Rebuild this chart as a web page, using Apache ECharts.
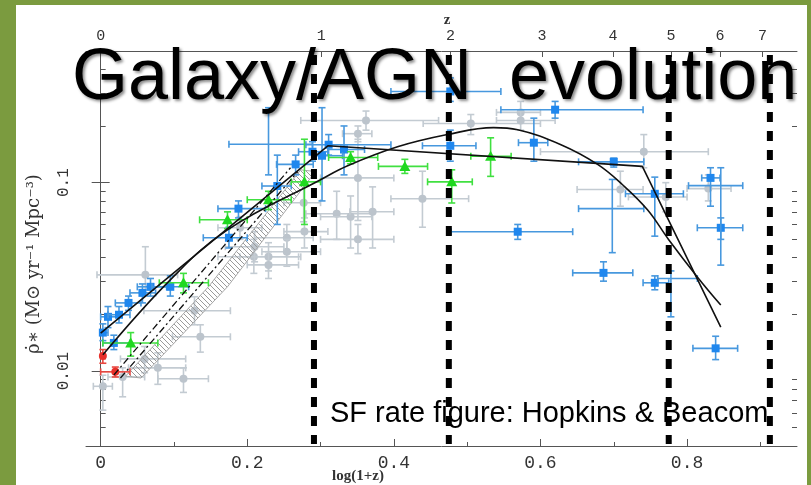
<!DOCTYPE html>
<html>
<head>
<meta charset="utf-8">
<script src="https://cdn.jsdelivr.net/npm/echarts@6/dist/echarts.min.js"></script>
<style>
  html, body { margin: 0; padding: 0; }
  #chart { width: 811px; height: 485px; }
</style>
</head>
<body>
<div id="chart"></div>
<script>
// x = log(1+z), y = star formation rate density
// point rows: [x, y, xLow, xHigh, yLow, yHigh]
const grayPoints = [
  [0.003, 0.0083, -0.01, 0.016, 0.0062, 0.0095],
  [0.03, 0.0093, 0.01, 0.06, 0.0073, 0.0104],
  [0.06, 0.0116, 0.027, 0.116, 0.0098, 0.0135],
  [0.078, 0.0104, 0.038, 0.116, 0.0085, 0.0125],
  [0.113, 0.0091, 0.078, 0.147, 0.0077, 0.0104],
  [0.128, 0.0209, 0.059, 0.177, 0.0176, 0.0248],
  [0.136, 0.0152, 0.098, 0.177, 0.0126, 0.0176],
  [0.061, 0.0324, -0.005, 0.105, 0.027, 0.0457],
  [0.209, 0.0404, 0.16, 0.273, 0.033, 0.05],
  [0.229, 0.0404, 0.19, 0.27, 0.034, 0.048],
  [0.229, 0.0366, 0.2, 0.27, 0.031, 0.043],
  [0.254, 0.051, 0.21, 0.29, 0.043, 0.06],
  [0.254, 0.043, 0.22, 0.3, 0.036, 0.05],
  [0.277, 0.0783, 0.25, 0.3, 0.062, 0.1],
  [0.21, 0.0457, 0.17, 0.25, 0.038, 0.055],
  [0.19, 0.0576, 0.16, 0.22, 0.05, 0.066],
  [0.362, 0.214, 0.273, 0.461, 0.19, 0.24],
  [0.351, 0.182, 0.33, 0.37, 0.165, 0.2],
  [0.351, 0.106, 0.3, 0.4, 0.063, 0.17],
  [0.439, 0.0822, 0.396, 0.502, 0.058, 0.115],
  [0.322, 0.0684, 0.28, 0.37, 0.05, 0.09],
  [0.341, 0.0659, 0.3, 0.37, 0.045, 0.085],
  [0.371, 0.0701, 0.34, 0.4, 0.045, 0.095],
  [0.351, 0.05, 0.3, 0.4, 0.042, 0.06],
  [0.278, 0.055, 0.25, 0.31, 0.045, 0.065],
  [0.505, 0.206, 0.44, 0.6, 0.18, 0.23],
  [0.573, 0.236, 0.54, 0.6, 0.21, 0.27],
  [0.573, 0.214, 0.54, 0.62, 0.19, 0.24],
  [0.741, 0.146, 0.6, 0.829, 0.12, 0.18],
  [0.709, 0.092, 0.65, 0.74, 0.075, 0.115],
  [0.771, 0.084, 0.72, 0.8, 0.07, 0.1],
  [0.829, 0.093, 0.8, 0.86, 0.08, 0.11]
];
const bluePoints = [
  [0.003, 0.016, 0.0, 0.01, 0.0145, 0.0178],
  [0.01, 0.0194, 0.0, 0.025, 0.017, 0.022],
  [0.018, 0.0141, 0.003, 0.04, 0.013, 0.0155],
  [0.025, 0.0199, 0.01, 0.04, 0.018, 0.022],
  [0.038, 0.023, 0.02, 0.055, 0.021, 0.025],
  [0.057, 0.026, 0.04, 0.075, 0.023, 0.029],
  [0.068, 0.028, 0.05, 0.09, 0.025, 0.031],
  [0.095, 0.028, 0.07, 0.12, 0.025, 0.032],
  [0.175, 0.051, 0.14, 0.2, 0.045, 0.058],
  [0.188, 0.0728, 0.16, 0.225, 0.065, 0.08],
  [0.241, 0.096, 0.22, 0.26, 0.06, 0.14],
  [0.266, 0.125, 0.24, 0.29, 0.11, 0.14],
  [0.289, 0.146, 0.27, 0.31, 0.13, 0.165],
  [0.311, 0.159, 0.28, 0.396, 0.14, 0.18],
  [0.332, 0.15, 0.31, 0.36, 0.11, 0.2],
  [0.302, 0.139, 0.29, 0.33, 0.08, 0.25],
  [0.477, 0.157, 0.439, 0.512, 0.13, 0.19],
  [0.477, 0.305, 0.396, 0.546, 0.27, 0.36],
  [0.591, 0.163, 0.57, 0.61, 0.13, 0.22],
  [0.569, 0.0549, 0.478, 0.644, 0.05, 0.06],
  [0.62, 0.244, 0.546, 0.74, 0.22, 0.27],
  [0.7, 0.129, 0.652, 0.741, 0.121, 0.135],
  [0.756, 0.0873, 0.716, 0.795, 0.052, 0.107],
  [0.832, 0.106, 0.82, 0.845, 0.075, 0.12],
  [0.846, 0.0576, 0.814, 0.876, 0.0365, 0.065],
  [0.686, 0.0332, 0.644, 0.726, 0.03, 0.038],
  [0.756, 0.0294, 0.74, 0.775, 0.027, 0.032],
  [0.839, 0.0132, 0.808, 0.869, 0.0115, 0.0153]
];
const blueCrosses = [
  [0.229, 0.16, 0.175, 0.289, 0.11, 0.25],
  [0.698, 0.0728, 0.652, 0.741, 0.0425, 0.104],
  [0.846, 0.0964, 0.802, 0.876, 0.05, 0.12],
  [0.778, 0.031, 0.76, 0.814, 0.0194, 0.034]
];
const greenPoints = [
  [0.041, 0.0141, 0.003, 0.078, 0.012, 0.016],
  [0.113, 0.0294, 0.08, 0.147, 0.026, 0.033],
  [0.173, 0.0635, 0.135, 0.2, 0.057, 0.07],
  [0.229, 0.0812, 0.2, 0.26, 0.072, 0.09],
  [0.278, 0.101, 0.26, 0.3, 0.06, 0.17],
  [0.341, 0.136, 0.311, 0.378, 0.126, 0.146],
  [0.415, 0.122, 0.379, 0.446, 0.112, 0.133],
  [0.479, 0.101, 0.446, 0.507, 0.078, 0.117],
  [0.532, 0.138, 0.505, 0.56, 0.108, 0.173]
];
const redPoints = [
  [0.003, 0.012, 0.0, 0.006, 0.011, 0.013],
  [0.02, 0.0099, 0.0, 0.04, 0.0093, 0.0105]
];

// fitted curves
const fitBroken = [[0, 0.0159], [0.31, 0.157], [0.739, 0.122], [0.846, 0.0171]];
const fitSmooth = [
  [0.003, 0.0122], [0.095, 0.0305], [0.173, 0.0562], [0.30, 0.1037], [0.337, 0.123],
  [0.405, 0.155], [0.473, 0.180], [0.536, 0.196], [0.569, 0.191], [0.628, 0.159],
  [0.678, 0.125], [0.712, 0.0975], [0.746, 0.0718], [0.775, 0.0498], [0.814, 0.0316],
  [0.846, 0.0224]
];
const dashFit1 = [[0.018, 0.00953], [0.259, 0.120]];
const dashFit2 = [[0.027, 0.00918], [0.269, 0.1145]];
const bandUpper = [[0.034, 0.0094], [0.147, 0.028], [0.273, 0.117]];
const bandLower = [[0.055, 0.00918], [0.173, 0.028], [0.293, 0.1145]];

// slide annotation: vertical dashed markers
const markerLines = [0.291, 0.475, 0.775, 0.913];

// tick values
const zTicks = [0, 1, 2, 3, 4, 5, 6, 7];
const xMajor = [0, 0.2, 0.4, 0.6, 0.8];
const xMinor = [0.1, 0.3, 0.5, 0.7, 0.9];
const yMajor = [0.01, 0.1];
const yMinor = [0.004, 0.005, 0.006, 0.007, 0.008, 0.009,
  0.02, 0.03, 0.04, 0.05, 0.06, 0.07, 0.08, 0.09, 0.2, 0.3, 0.4];

const X_MIN = -0.02, X_MAX = 0.95, Y_MIN = 0.004, Y_MAX = 0.5;

const chart = echarts.init(document.getElementById('chart'));

// hatch pattern for the shaded band
const hatch = document.createElement('canvas');
hatch.width = 5; hatch.height = 5;
const hctx = hatch.getContext('2d');
hctx.strokeStyle = '#9a9a9a';
hctx.lineWidth = 1;
hctx.beginPath();
hctx.moveTo(0, 0); hctx.lineTo(5, 5);
hctx.moveTo(-1, 4); hctx.lineTo(1, 6);
hctx.moveTo(4, -1); hctx.lineTo(6, 1);
hctx.stroke();

function errorSeries(data, barColor, markColor, marker, size, z) {
  return {
    type: 'custom',
    data: data,
    z: z,
    silent: true,
    renderItem: function (params, api) {
      const x = api.value(0), y = api.value(1);
      const c = api.coord([x, y]);
      const l = api.coord([api.value(2), y]);
      const r = api.coord([api.value(3), y]);
      const b = api.coord([x, api.value(4)]);
      const t = api.coord([x, api.value(5)]);
      const cap = 3.5;
      const ls = { stroke: barColor, lineWidth: 1.6 };
      const kids = [
        { type: 'line', shape: { x1: l[0], y1: c[1], x2: r[0], y2: c[1] }, style: ls },
        { type: 'line', shape: { x1: c[0], y1: b[1], x2: c[0], y2: t[1] }, style: ls },
        { type: 'line', shape: { x1: l[0], y1: c[1] - cap, x2: l[0], y2: c[1] + cap }, style: ls },
        { type: 'line', shape: { x1: r[0], y1: c[1] - cap, x2: r[0], y2: c[1] + cap }, style: ls },
        { type: 'line', shape: { x1: c[0] - cap, y1: b[1], x2: c[0] + cap, y2: b[1] }, style: ls },
        { type: 'line', shape: { x1: c[0] - cap, y1: t[1], x2: c[0] + cap, y2: t[1] }, style: ls }
      ];
      const h = size / 2;
      if (marker === 'circle') {
        kids.push({ type: 'circle', shape: { cx: c[0], cy: c[1], r: h }, style: { fill: markColor } });
      } else if (marker === 'square') {
        kids.push({ type: 'rect', shape: { x: c[0] - h, y: c[1] - h, width: size, height: size }, style: { fill: markColor } });
      } else if (marker === 'triangle') {
        kids.push({ type: 'polygon', shape: { points: [[c[0], c[1] - h - 1], [c[0] + h + 1, c[1] + h], [c[0] - h - 1, c[1] + h]] }, style: { fill: markColor } });
      }
      return { type: 'group', children: kids };
    }
  };
}

function lineSeries(data, dash, width, smooth) {
  return {
    type: 'line',
    data: data,
    showSymbol: false,
    smooth: smooth,
    silent: true,
    z: 4,
    lineStyle: { color: '#111', width: width, type: dash }
  };
}

const labelFont = { fontFamily: 'Liberation Mono', color: '#333' };
const titleStyle = {
  font: '72px "Liberation Sans"', fill: '#000', align: 'left', verticalAlign: 'middle',
  textShadowColor: 'rgba(0,0,0,0.45)', textShadowBlur: 3, textShadowOffsetX: 2, textShadowOffsetY: 2
};

const option = {
  animation: false,
  backgroundColor: '#7b9b3f',
  grid: { left: 86, right: 14, top: 51, bottom: 39 },
  xAxis: [
    {
      type: 'value', position: 'bottom', min: X_MIN, max: X_MAX,
      splitLine: { show: false },
      axisLine: { show: true, lineStyle: { color: '#555', width: 1 } },
      axisTick: { inside: true, length: 7, customValues: xMajor, lineStyle: { color: '#555' } },
      axisLabel: Object.assign({ customValues: xMajor, fontSize: 18, margin: 8,
        formatter: v => (Math.abs(v) < 1e-9 ? '0' : v.toFixed(1)) }, labelFont)
    },
    {
      type: 'value', position: 'bottom', min: X_MIN, max: X_MAX,
      splitLine: { show: false },
      axisLine: { show: false },
      axisTick: { inside: true, length: 4, customValues: xMinor, lineStyle: { color: '#555' } },
      axisLabel: { show: false }
    },
    {
      type: 'value', position: 'top', min: X_MIN, max: X_MAX,
      splitLine: { show: false },
      axisLine: { show: true, lineStyle: { color: '#555', width: 1 } },
      axisTick: { inside: true, length: 6, customValues: zTicks.map(z => Math.log10(1 + z)), lineStyle: { color: '#555' } },
      axisLabel: Object.assign({ customValues: zTicks.map(z => Math.log10(1 + z)), fontSize: 15, margin: 7,
        formatter: v => String(Math.round(Math.pow(10, v) - 1)) }, labelFont)
    }
  ],
  yAxis: [
    {
      type: 'log', position: 'left', min: Y_MIN, max: Y_MAX,
      splitLine: { show: false },
      axisLine: { show: true, lineStyle: { color: '#555', width: 1 } },
      axisTick: { inside: true, length: 9, customValues: yMajor, lineStyle: { color: '#555' } },
      axisLabel: Object.assign({ customValues: yMajor, fontSize: 16, rotate: 90, margin: 14,
        formatter: v => (v < 0.05 ? '0.01' : '0.1') }, labelFont)
    },
    {
      type: 'log', position: 'left', min: Y_MIN, max: Y_MAX,
      splitLine: { show: false },
      axisLine: { show: false },
      axisTick: { inside: true, length: 5, customValues: yMinor, lineStyle: { color: '#555' } },
      axisLabel: { show: false }
    },
    {
      type: 'log', position: 'right', min: Y_MIN, max: Y_MAX,
      splitLine: { show: false },
      axisLine: { show: true, lineStyle: { color: '#555', width: 1 } },
      axisTick: { inside: true, length: 9, customValues: yMajor, lineStyle: { color: '#555' } },
      axisLabel: { show: false }
    },
    {
      type: 'log', position: 'right', min: Y_MIN, max: Y_MAX,
      splitLine: { show: false },
      axisLine: { show: false },
      axisTick: { inside: true, length: 5, customValues: yMinor, lineStyle: { color: '#555' } },
      axisLabel: { show: false }
    }
  ],
  graphic: [
    { type: 'rect', z: -10, silent: true, shape: { x: 16, y: 5, width: 791, height: 480 }, style: { fill: '#ffffff' } },
    { type: 'text', z: 50, x: 447, y: 20, silent: true,
      style: { text: 'z', font: 'bold 15px "Liberation Serif"', fill: '#333', align: 'center', verticalAlign: 'middle' } },
    { type: 'text', z: 50, x: 358, y: 476, silent: true,
      style: { text: 'log(1+z)', font: 'bold 15px "Liberation Serif"', fill: '#333', align: 'center', verticalAlign: 'middle' } },
    { type: 'text', z: 50, x: 34, y: 264, rotation: Math.PI / 2, silent: true,
      style: { text: 'ρ̇\u2217 (M\u2299 yr\u207B\u00B9 Mpc\u207B\u00B3)', font: '18px "DejaVu Serif"', fill: '#333', align: 'center', verticalAlign: 'middle' } },
    { type: 'text', z: 100, x: 72, y: 79, silent: true,
      style: Object.assign({ text: 'Galaxy/AGN' }, titleStyle) },
    { type: 'text', z: 100, x: 509, y: 79, silent: true,
      style: Object.assign({ text: 'evolution' }, titleStyle) },
    { type: 'text', z: 100, x: 330, y: 414, silent: true,
      style: { text: 'SF rate figure: Hopkins & Beacom', font: '29px "Liberation Sans"', fill: '#000', align: 'left', verticalAlign: 'middle' } }
  ],
  series: [
    errorSeries(grayPoints, '#c3cbd2', '#bcc4cc', 'circle', 8, 1),
    {
      type: 'custom',
      data: [[0.1, 0.03]],
      z: 2,
      silent: true,
      renderItem: function (params, api) {
        const pts = bandUpper.map(p => api.coord(p))
          .concat(bandLower.slice().reverse().map(p => api.coord(p)));
        return {
          type: 'polygon',
          shape: { points: pts },
          style: { fill: { image: hatch, repeat: 'repeat' }, stroke: '#a8a8a8', lineWidth: 1 }
        };
      }
    },
    errorSeries(bluePoints, '#4798de', '#1f87ee', 'square', 8, 3),
    errorSeries(blueCrosses, '#4798de', '#1f87ee', 'none', 0, 3),
    errorSeries(greenPoints, '#40e040', '#1fd81f', 'triangle', 9, 3),
    errorSeries(redPoints, '#e8463f', '#e8302a', 'circle', 8, 3),
    lineSeries(fitBroken, 'solid', 1.6, false),
    lineSeries(fitSmooth, 'solid', 1.6, 0.4),
    lineSeries(dashFit1, [7, 3, 2, 3], 1.3, false),
    lineSeries(dashFit2, [7, 3, 2, 3], 1.3, false),
    {
      type: 'custom',
      data: markerLines.map(v => [v, 0.01]),
      z: 8,
      silent: true,
      renderItem: function (params, api) {
        const x = api.value(0);
        const top = api.coord([x, Y_MAX]);
        const bot = api.coord([x, Y_MIN]);
        return {
          type: 'line',
          shape: { x1: top[0], y1: top[1] + 4, x2: bot[0], y2: bot[1] - 2 },
          style: { stroke: '#000', lineWidth: 6, lineDash: [10, 9] }
        };
      }
    }
  ]
};

chart.setOption(option);
</script>
</body>
</html>
